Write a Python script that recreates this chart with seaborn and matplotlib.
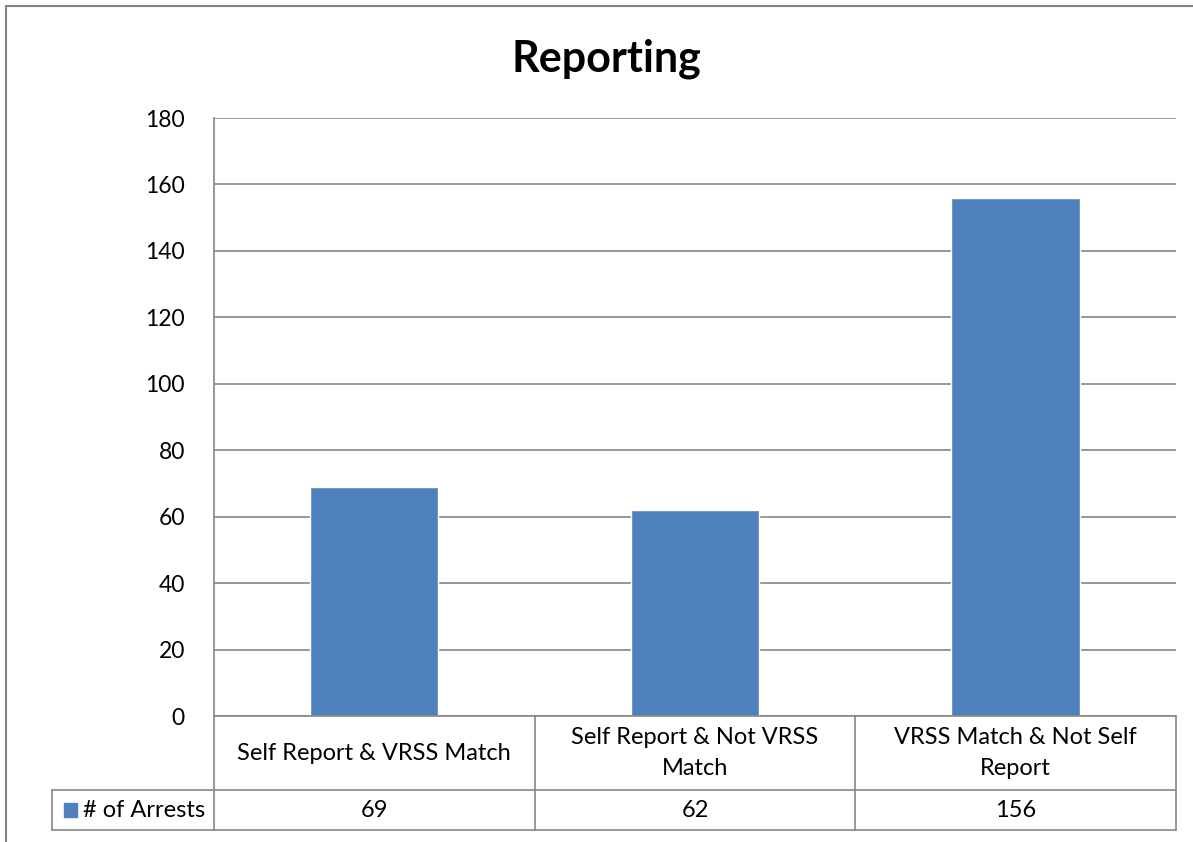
import matplotlib
matplotlib.use('Agg')
import matplotlib.pyplot as plt
import matplotlib.transforms as mtransforms
from matplotlib.patches import Rectangle
import pandas as pd
import seaborn as sns

categories = ['Self Report & VRSS Match', 'Self Report & Not VRSS Match', 'VRSS Match & Not Self Report']
table_labels = ['Self Report & VRSS Match', 'Self Report & Not VRSS\nMatch', 'VRSS Match & Not Self\nReport']
arrests = [69, 62, 156]
series_name = '# of Arrests'
bar_color = '#4F81BD'
line_color = '#868686'

sns.set_style('white')
plt.rcParams['font.family'] = ['Lato', 'DejaVu Sans']
plt.rcParams['text.color'] = 'black'
plt.rcParams['ytick.labelcolor'] = 'black'

df = pd.DataFrame({'category': categories, 'arrests': arrests})

fig = plt.figure(figsize=(11.93, 8.42), dpi=100)
ax = fig.add_axes([0.1794, 0.1496, 0.8063, 0.7102])

sns.barplot(data=df, x='category', y='arrests', color=bar_color, width=0.4,
            saturation=1, ax=ax)

ax.set_ylim(0, 180)
ax.set_xlim(-0.5, 2.5)
ax.set_yticks(range(0, 181, 20))
ax.yaxis.grid(True, color=line_color, linewidth=1.2)
ax.set_axisbelow(True)
ax.set_xlabel('')
ax.set_ylabel('')
ax.set_xticks([])
ax.tick_params(axis='y', labelsize=16.5, length=7, width=1.2, color=line_color,
               labelcolor='black', pad=14)
for side in ['top', 'right', 'bottom']:
    ax.spines[side].set_visible(False)
ax.spines['left'].set_color(line_color)
ax.spines['left'].set_linewidth(1.2)

fig.text(0.5083, 0.930, 'Reporting', ha='center', va='center', fontsize=31,
         fontweight='bold', color='black')

# data table below the axes
trans = mtransforms.blended_transform_factory(ax.transData, ax.transAxes)
y0, y1, y2 = 0.0, -0.1237, -0.1906
lkw = dict(color=line_color, linewidth=1.2, clip_on=False)
ax.plot([-0.5, 2.5], [y0, y0], transform=trans, **lkw)
ax.plot([-0.5, 2.5], [y1, y1], transform=trans, **lkw)
ax.plot([-0.5, 2.5], [y2, y2], transform=trans, **lkw)
for xb in [-0.5, 0.5, 1.5, 2.5]:
    ax.plot([xb, xb], [y0, y2], transform=trans, **lkw)

# legend cell on the left
leg_left = -0.1681
tax = ax.transAxes
ax.plot([leg_left, 0], [y1, y1], transform=tax, **lkw)
ax.plot([leg_left, 0], [y2, y2], transform=tax, **lkw)
ax.plot([leg_left, leg_left], [y1, y2], transform=tax, **lkw)
ax.add_patch(Rectangle((leg_left + 0.0125, (y1 + y2) / 2 - 0.012), 0.0135, 0.024,
                       transform=tax, color=bar_color, clip_on=False))
ax.text(leg_left + 0.0185 + 0.0135, (y1 + y2) / 2, series_name, transform=tax,
        ha='left', va='center', fontsize=17)

for i, (lab, val) in enumerate(zip(table_labels, arrests)):
    ax.text(i, (y0 + y1) / 2, lab, transform=trans, ha='center', va='center',
            fontsize=17, linespacing=1.6)
    ax.text(i, (y1 + y2) / 2, str(val), transform=trans, ha='center', va='center',
            fontsize=17)

# chart area border
fig.patches.append(Rectangle((6 / 1193, -0.05), 1.2, 1.05 - 6 / 842, transform=fig.transFigure,
                             fill=False, edgecolor=line_color, linewidth=1.5))

fig.savefig('out.png', dpi=100)
